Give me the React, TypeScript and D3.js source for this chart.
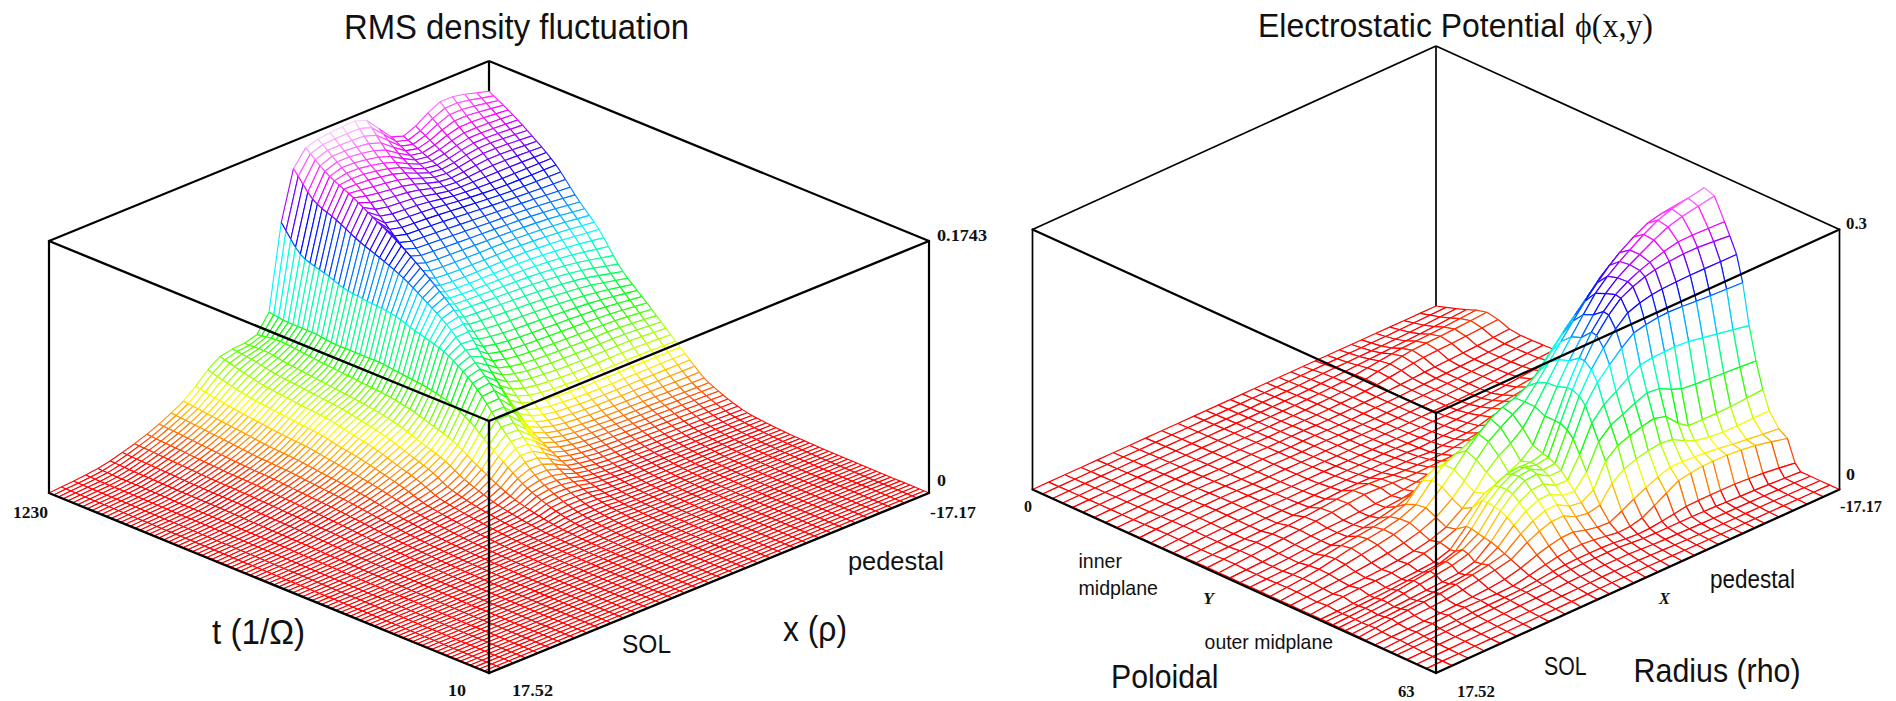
import React, { useEffect, useRef } from "react";
import * as d3 from "d3";

// ---- Left panel: heights (fraction of box height, 1 = 0.1743) ----
// Mesh vertices between these table entries are resampled with a monotone interpolation;
// only the table entries themselves are estimates.
const rmsT = [0, .2, .3, .4, .5, .55, .6, .65, .7, .75, .8, .85, .9, .95, 1];
const rmsX = [0, .1, .2, .3, .4, .46, .5, .54, .58, .62, .7, .8, .9, 1];
const rmsZ = [
  [0, 0, 0, 0, 0, 0, 0, 0, 0, 0, 0, 0, 0, 0],
  [0, .001, .002, .003, .004, .004, .004, .005, .005, .005, .004, .004, .003, .002],
  [0, .002, .005, .007, .01, .012, .018, .02, .02, .015, .012, .01, .008, .006],
  [0, .003, .01, .016, .028, .04, .07, .08, .07, .05, .035, .03, .025, .02],
  [0, .005, .018, .035, .06, .11, .19, .25, .2, .13, .10, .09, .085, .08],
  [0, .006, .024, .05, .10, .16, .26, .36, .31, .20, .16, .15, .15, .15],
  [0, .007, .028, .065, .13, .19, .30, .44, .42, .29, .25, .24, .24, .23],
  [0, .008, .032, .075, .16, .22, .32, .50, .53, .38, .35, .34, .33, .31],
  [0, .009, .036, .085, .18, .24, .33, .54, .61, .47, .46, .45, .43, .39],
  [0, .01, .04, .095, .2, .25, .34, .58, .68, .55, .54, .54, .53, .51],
  [0, .01, .042, .10, .21, .26, .34, .60, .74, .65, .64, .63, .62, .60],
  [0, .011, .045, .11, .22, .27, .34, .62, .79, .74, .73, .71, .70, .70],
  [0, .012, .05, .12, .23, .28, .35, .66, .84, .83, .81, .76, .78, .77],
  [0, .012, .055, .13, .25, .29, .35, .70, .88, .90, .88, .80, .84, .83],
  [0, .015, .06, .14, .27, .28, .36, .82, .95, .97, .98, .84, .92, .88],
];

// ---- Right panel: heights (fraction of box height, 1 = 0.3) ----
const phiY = [0, .05, .1, .13, .16, .19, .22, .25, .28, .31, .34, .38, .42, .46, .5, .55, .6, .7, .8, .87, .94, 1];
const phiX = [0, .1, .2, .3, .36, .42, .48, .54, .58, .62, .68, .74, .82, .9, 1];
const phiZ = [
  [0, 0, 0, 0, 0, 0, 0, 0, 0, 0, 0, 0, 0, 0, 0],
  [0, .002, .004, .006, .008, .01, .012, .012, .01, .008, .006, .004, .004, .003, 0],
  [.002, .006, .01, .015, .02, .028, .03, .03, .025, .02, .02, .02, .015, .01, 0],
  [.003, .012, .02, .015, .03, .05, .06, .05, .04, .045, .09, .14, .15, .14, .107],
  [.003, .006, .012, .03, .05, .09, .11, .08, .08, .13, .17, .19, .17, .15, .14],
  [.004, .02, .03, .05, .07, .14, .17, .13, .16, .27, .31, .33, .24, .24, .25],
  [.005, .01, .018, .03, .09, .18, .22, .18, .26, .38, .44, .49, .49, .47, .44],
  [.005, .015, .035, .06, .10, .21, .26, .22, .34, .48, .6, .68, .70, .70, .70],
  [.006, .01, .018, .03, .11, .21, .25, .24, .36, .50, .66, .75, .80, .82, .81],
  [.006, .02, .025, .05, .08, .16, .2, .25, .36, .48, .62, .74, .82, .88, .91],
  [.006, .012, .02, .04, .07, .14, .25, .31, .38, .47, .6, .72, .82, .89, .925],
  [.006, .02, .04, .07, .11, .19, .29, .36, .38, .42, .52, .62, .74, .80, .80],
  [.006, .02, .05, .07, .1, .2, .22, .25, .26, .3, .4, .5, .60, .66, .65],
  [.006, .012, .025, .04, .06, .09, .12, .14, .15, .18, .25, .33, .42, .48, .5],
  [.006, .012, .025, .03, .035, .04, .06, .08, .08, .1, .14, .2, .26, .32, .35],
  [.006, .018, .03, .045, .055, .05, .04, .04, .04, .05, .07, .1, .14, .18, .2],
  [.005, .01, .015, .02, .025, .025, .025, .025, .02, .025, .03, .05, .07, .09, .1],
  [.003, .012, .016, .012, .012, .012, .012, .012, .012, .012, .015, .015, .02, .03, .04],
  [.002, .006, .01, .008, .01, .008, .01, .008, .008, .01, .012, .015, .02, .025, .035],
  [.002, .004, .006, .006, .006, .006, .006, .006, .008, .01, .015, .03, .05, .055, .065],
  [.001, .002, .003, .003, .003, .003, .003, .004, .004, .006, .01, .012, .015, .02, .03],
  [0, 0, 0, 0, 0, 0, 0, 0, 0, 0, 0, 0, 0, 0, 0],
];

// mesh-line positions (the right mesh is non-uniform in Y and X)
const rmsTimeCells = 92;
const rmsRadialCells = 36;
const phiYLines = [0, .024, .048, .072, .096, .11, .129, .15, .174, .19, .207, .224, .24, .255, .272, .285, .31, .335, .36, .385, .41, .435, .46, .485, .51, .538, .566, .594, .622, .65, .678, .706, .734, .762, .79, .818, .846, .874, .9, .925, .95, .975, 1];
const phiXLines = [0, .04, .08, .12, .16, .2, .24, .28, .32, .36, .4, .43, .46, .49, .52, .55, .58, .61, .64, .67, .7, .73, .76, .79, .815, .85, .885, .92, .96, 1];

const colorStops = [0, .03, .09, .17, .33, .52, .7, .84, 1];
const colorRange = ["#ff0000", "#ff0000", "#ff7000", "#ffff00", "#00ff00", "#00ffff", "#0000ff", "#ff00ff", "#ffeeff"];
const heightColor = d3.scaleLinear<string>().domain(colorStops).range(colorRange).clamp(true);

// monotone cubic along one axis
function mono(xs: number[], ys: number[], x: number) {
  const n = xs.length;
  const i = Math.min(n - 2, Math.max(0, d3.bisectRight(xs, x) - 1));
  const h = xs[i + 1] - xs[i];
  const s = (a: number) => (ys[a + 1] - ys[a]) / (xs[a + 1] - xs[a]);
  const tan = (a: number) => {
    if (a === 0) return s(0);
    if (a === n - 1) return s(n - 2);
    const p = s(a - 1), q = s(a);
    return p * q <= 0 ? 0 : (2 * p * q) / (p + q);
  };
  const t = (x - xs[i]) / h;
  const m0 = tan(i), m1 = tan(i + 1);
  return (2 * t ** 3 - 3 * t ** 2 + 1) * ys[i] + (t ** 3 - 2 * t ** 2 + t) * h * m0 + (-2 * t ** 3 + 3 * t ** 2) * ys[i + 1] + (t ** 3 - t ** 2) * h * m1;
}

type Box = { cx: number; fy: number; halfW: number; dy: number; h: number };

function Surface({ box, uAxis, vAxis, zz, uLines, vLines, sw }: { box: Box; uAxis: number[]; vAxis: number[]; zz: number[][]; uLines: number[]; vLines: number[]; sw: number }) {
  const ref = useRef<SVGGElement>(null);
  useEffect(() => {
    const ux = d3.scaleLinear().domain([0, 1]).range([0, -box.halfW]);
    const vx = d3.scaleLinear().domain([0, 1]).range([0, box.halfW]);
    const fl = d3.scaleLinear().domain([0, 1]).range([0, -box.dy]);
    const zy = d3.scaleLinear().domain([0, 1]).range([0, -box.h]);
    const col = vAxis.map((_, j) => zz.map((r) => r[j]));
    const colAt = uLines.map((u) => vAxis.map((_, j) => mono(uAxis, col[j], u)));
    const Z = colAt.map((r) => vLines.map((v) => Math.max(0, mono(vAxis, r, v))));
    const P = (i: number, j: number): [number, number] => {
      const u = uLines[i], v = vLines[j];
      return [box.cx + ux(u) + vx(v), box.fy + fl(u) + fl(v) + zy(Z[i][j])];
    };
    const items: { d: string; fill: string; stroke: string }[] = [];
    const line = d3.line();
    const seg = (a: [number, number], b: [number, number], z: number) =>
      items.push({ d: line([a, b]) as string, fill: "none", stroke: heightColor(z) });
    for (let i = uLines.length - 2; i >= 0; i--) {
      for (let j = vLines.length - 2; j >= 0; j--) {
        const a = P(i, j), b = P(i + 1, j), c = P(i + 1, j + 1), e = P(i, j + 1);
        items.push({ d: (line([a, b, c, e]) as string) + "Z", fill: "#fff", stroke: "none" });
        seg(b, c, (Z[i + 1][j] + Z[i + 1][j + 1]) / 2);
        seg(c, e, (Z[i + 1][j + 1] + Z[i][j + 1]) / 2);
        seg(a, b, (Z[i][j] + Z[i + 1][j]) / 2);
        seg(a, e, (Z[i][j] + Z[i][j + 1]) / 2);
      }
    }
    d3.select(ref.current).selectAll("path").data(items).join("path")
      .attr("d", (d) => d.d).attr("fill", (d) => d.fill).attr("stroke", (d) => d.stroke).attr("stroke-width", sw);
  }, []);
  return <g ref={ref} />;
}

const leftBox: Box = { cx: 489, fy: 673, halfW: 440, dy: 180, h: 252 };
const rightBox: Box = { cx: 1436, fy: 673, halfW: 403.5, dy: 183.5, h: 260 };

function Back({ b, w }: { b: Box; w: number }) {
  const { cx, fy, halfW, dy, h } = b;
  const lines = [
    [cx - halfW, fy - dy, cx - halfW, fy - dy - h],
    [cx + halfW, fy - dy, cx + halfW, fy - dy - h],
    [cx - halfW, fy - dy - h, cx, fy - 2 * dy - h],
    [cx + halfW, fy - dy - h, cx, fy - 2 * dy - h],
    [cx, fy - 2 * dy - h, cx, fy - 2 * dy],
  ];
  return <g stroke="#000" strokeWidth={w}>{lines.map((l, i) => <line key={i} x1={l[0]} y1={l[1]} x2={l[2]} y2={l[3]} />)}</g>;
}
function Front({ b, w }: { b: Box; w: number }) {
  const { cx, fy, halfW, dy, h } = b;
  const lines = [
    [cx - halfW, fy - dy - h, cx, fy - h],
    [cx + halfW, fy - dy - h, cx, fy - h],
    [cx, fy - h, cx, fy],
    [cx - halfW, fy - dy, cx, fy],
    [cx + halfW, fy - dy, cx, fy],
  ];
  return <g stroke="#000" strokeWidth={w} strokeLinecap="round">{lines.map((l, i) => <line key={i} x1={l[0]} y1={l[1]} x2={l[2]} y2={l[3]} />)}</g>;
}

const sans = "'Liberation Sans', Arial, sans-serif";
const serif = "'Liberation Serif', serif";

function S({ x, y, w, size, children }: any) {
  return <text x={x} y={y} fontFamily={sans} fontSize={size} textLength={w} lengthAdjust="spacingAndGlyphs" fill="#111">{children}</text>;
}
function N({ x, y, w, children, italic }: any) {
  return <text x={x} y={y} fontFamily={serif} fontWeight="bold" fontStyle={italic ? "italic" : "normal"} fontSize={17} textLength={w} lengthAdjust="spacingAndGlyphs" fill="#111">{children}</text>;
}

export default function App() {
  return (
    <svg width={1896} height={701} style={{ position: "absolute", left: 0, top: 0, background: "#fff" }}>
      <Back b={leftBox} w={2.2} />
      <Surface box={leftBox} uAxis={rmsT} vAxis={rmsX} zz={rmsZ} sw={1.1}
        uLines={d3.range(rmsTimeCells + 1).map((i) => i / rmsTimeCells)}
        vLines={d3.range(rmsRadialCells + 1).map((i) => i / rmsRadialCells)} />
      <Front b={leftBox} w={2.4} />

      <Back b={rightBox} w={1.7} />
      <Surface box={rightBox} uAxis={phiY} vAxis={phiX} zz={phiZ} sw={1.2} uLines={phiYLines} vLines={phiXLines} />
      <Front b={rightBox} w={2.2} />

      <S x={344} y={39} w={345} size={35}>RMS density fluctuation</S>
      <S x={212} y={644} w={93} size={35}>t (1/Ω)</S>
      <S x={783} y={641} w={64} size={35}>x (ρ)</S>
      <S x={622} y={653} w={49} size={25}>SOL</S>
      <S x={848} y={570} w={96} size={26}>pedestal</S>
      <N x={937} y={241} w={50}>0.1743</N>
      <N x={937} y={486} w={9}>0</N>
      <N x={930} y={518} w={46}>-17.17</N>
      <N x={13} y={518} w={35}>1230</N>
      <N x={448} y={696} w={18}>10</N>
      <N x={512} y={696} w={41}>17.52</N>

      <g transform="translate(1258,37) scale(1,1.1)">
        <text x={0} y={0} fontFamily={sans} fontSize={30.5} textLength={307} lengthAdjust="spacingAndGlyphs" fill="#111">Electrostatic Potential</text>
      </g>
      <text x={1575} y={37} fontFamily={serif} fontSize={33} textLength={78} lengthAdjust="spacingAndGlyphs" fill="#111">ϕ(x,y)</text>
      <N x={1846} y={229} w={21}>0.3</N>
      <N x={1846} y={480} w={9}>0</N>
      <N x={1840} y={512} w={42}>-17.17</N>
      <N x={1024} y={512} w={8}>0</N>
      <S x={1078.5} y={568} w={43.5} size={21}>inner</S>
      <S x={1078.5} y={594.5} w={79.5} size={21}>midplane</S>
      <N x={1203} y={604} w={11} italic>Y</N>
      <N x={1659} y={604} w={11} italic>X</N>
      <S x={1710} y={588} w={85} size={25}>pedestal</S>
      <S x={1204.6} y={649} w={128.4} size={21}>outer midplane</S>
      <S x={1544} y={675} w={42.5} size={25}>SOL</S>
      <S x={1633.6} y={682} w={167} size={34}>Radius (rho)</S>
      <S x={1111} y={687.5} w={107.5} size={34}>Poloidal</S>
      <N x={1398} y={696.5} w={16.6}>63</N>
      <N x={1457} y={696.5} w={38}>17.52</N>
    </svg>
  );
}
